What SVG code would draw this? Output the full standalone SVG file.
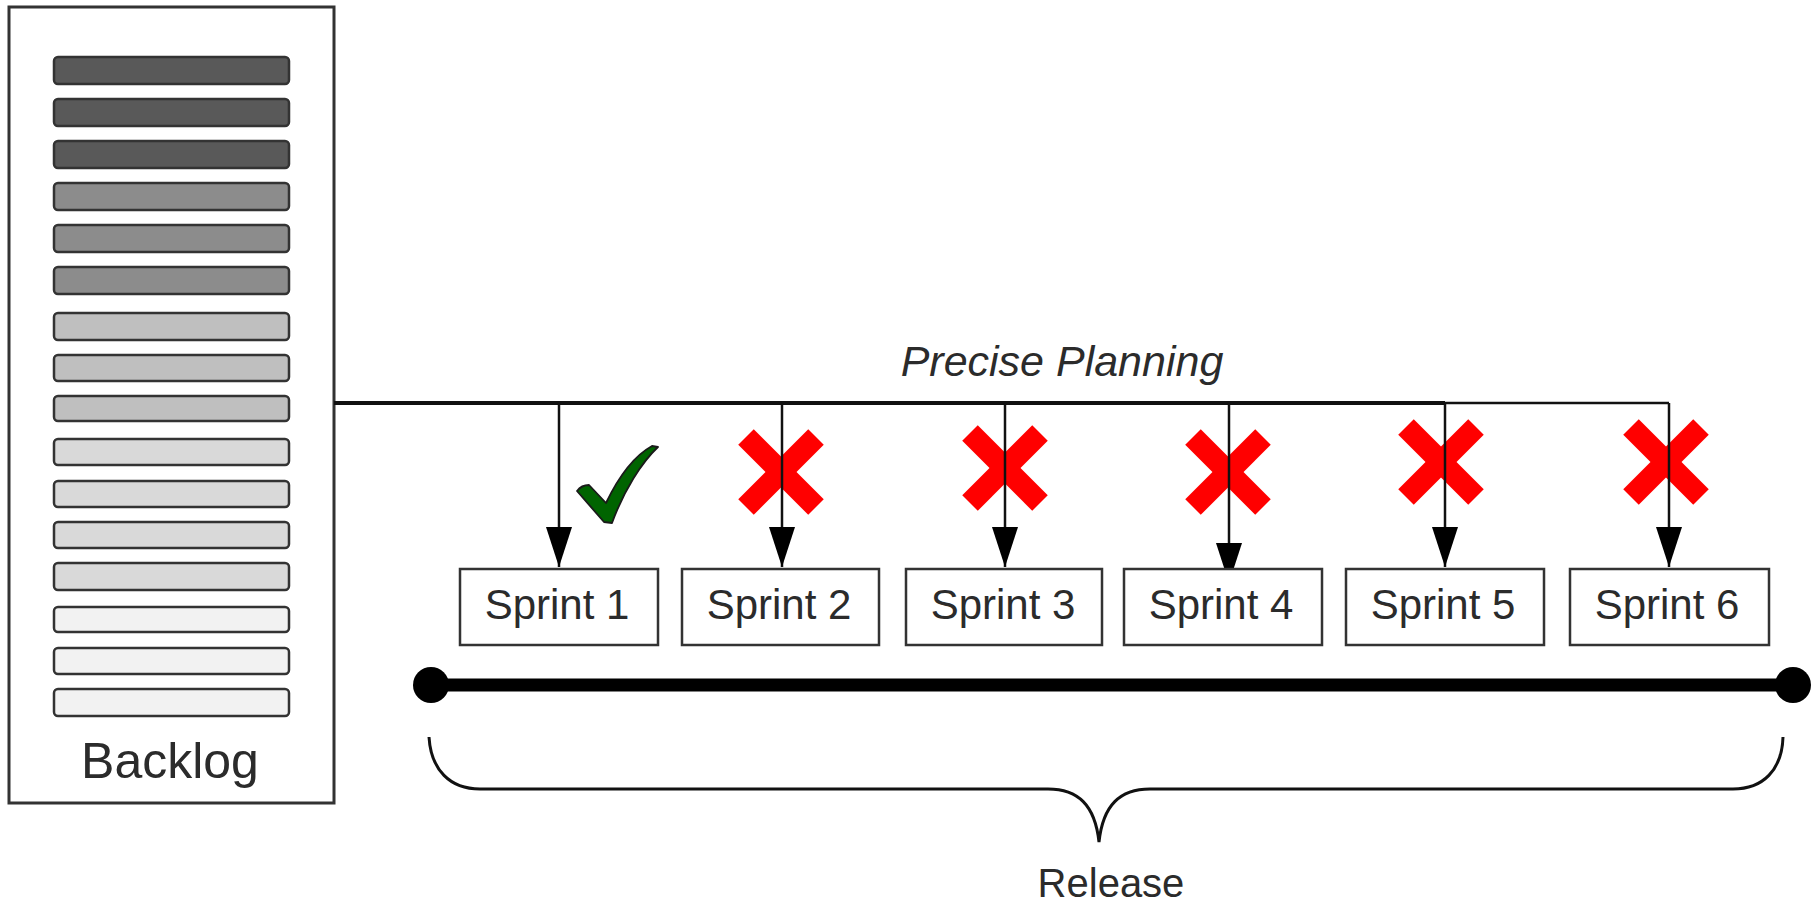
<svg xmlns="http://www.w3.org/2000/svg" width="1820" height="904" viewBox="0 0 1820 904">
<style>
  .txt { font-family: "Liberation Sans", Arial, sans-serif; fill: #2b2b2b; }
  .bar { stroke: #333; stroke-width: 2.5; }
  .sprint { fill: #fff; stroke: #333; stroke-width: 2.5; }
  .conn { fill: none; stroke: #111; stroke-width: 2.5; }
  .cross { stroke: #ff0000; stroke-width: 22; stroke-linecap: butt; }
</style>
<defs>
  <marker id="arr" viewBox="0 -14 40 28" refX="40" refY="0" markerWidth="40" markerHeight="28" markerUnits="userSpaceOnUse" orient="auto">
    <path d="M0,-13 L40,0 L0,13 Z" fill="#000"/>
  </marker>
  <g id="x">
    <line class="cross" x1="-35" y1="-35" x2="35" y2="35"/>
    <line class="cross" x1="-35" y1="35" x2="35" y2="-35"/>
  </g>
</defs>
<rect width="1820" height="904" fill="#fff"/>

<g id="backlog">
  <rect x="9" y="7" width="325" height="796" fill="#fff" stroke="#333" stroke-width="3"/>
  <g class="bar">
    <rect x="54" y="57" width="235" height="27" rx="4" fill="#595959"/>
    <rect x="54" y="99" width="235" height="27" rx="4" fill="#595959"/>
    <rect x="54" y="141" width="235" height="27" rx="4" fill="#595959"/>
    <rect x="54" y="183" width="235" height="27" rx="4" fill="#8c8c8c"/>
    <rect x="54" y="225" width="235" height="27" rx="4" fill="#8c8c8c"/>
    <rect x="54" y="267" width="235" height="27" rx="4" fill="#8c8c8c"/>
    <rect x="54" y="313" width="235" height="27" rx="4" fill="#bfbfbf"/>
    <rect x="54" y="355" width="235" height="26" rx="4" fill="#bfbfbf"/>
    <rect x="54" y="396" width="235" height="25" rx="4" fill="#bfbfbf"/>
    <rect x="54" y="439" width="235" height="26" rx="4" fill="#d9d9d9"/>
    <rect x="54" y="481" width="235" height="26" rx="4" fill="#d9d9d9"/>
    <rect x="54" y="522" width="235" height="26" rx="4" fill="#d9d9d9"/>
    <rect x="54" y="563" width="235" height="27" rx="4" fill="#d9d9d9"/>
    <rect x="54" y="607" width="235" height="25" rx="4" fill="#f2f2f2"/>
    <rect x="54" y="648" width="235" height="26" rx="4" fill="#f2f2f2"/>
    <rect x="54" y="689" width="235" height="27" rx="4" fill="#f2f2f2"/>
  </g>
  <text class="txt" x="170" y="778" font-size="50" text-anchor="middle">Backlog</text>
</g>

<g id="planning-label">
  <text class="txt" x="1062" y="376" font-size="43" font-style="italic" text-anchor="middle">Precise Planning</text>
</g>

<g id="marks">
  <use href="#x" x="781" y="472"/>
  <use href="#x" x="1005" y="468"/>
  <use href="#x" x="1228" y="472"/>
  <use href="#x" x="1441" y="462"/>
  <use href="#x" x="1666" y="462"/>
  <path id="check" d="M577,491 C580,487 584,485 589,485 L606,503 C618,478 634,456 652,446 L658,447 C642,462 624,490 612,523 L604,522 Z" fill="#006400" stroke="#1a1a1a" stroke-width="1.8" stroke-linejoin="round"/>
</g>

<g id="connectors">
  <line x1="334" y1="403" x2="1445" y2="403" stroke="#111" stroke-width="4"/>
  <line x1="1445" y1="403" x2="1669" y2="403" stroke="#111" stroke-width="2.5"/>
  <line class="conn" x1="559" y1="403" x2="559" y2="567" marker-end="url(#arr)"/>
  <line class="conn" x1="782" y1="403" x2="782" y2="567" marker-end="url(#arr)"/>
  <line class="conn" x1="1005" y1="403" x2="1005" y2="567" marker-end="url(#arr)"/>
  <line class="conn" x1="1229" y1="403" x2="1229" y2="583" marker-end="url(#arr)"/>
  <line class="conn" x1="1445" y1="403" x2="1445" y2="567" marker-end="url(#arr)"/>
  <line class="conn" x1="1669" y1="403" x2="1669" y2="567" marker-end="url(#arr)"/>
</g>

<g id="sprint1">
  <rect class="sprint" x="460" y="569" width="198" height="76"/>
  <text class="txt" x="557" y="619" font-size="42" text-anchor="middle">Sprint 1</text>
</g>
<g id="sprint2">
  <rect class="sprint" x="682" y="569" width="197" height="76"/>
  <text class="txt" x="779" y="619" font-size="42" text-anchor="middle">Sprint 2</text>
</g>
<g id="sprint3">
  <rect class="sprint" x="906" y="569" width="196" height="76"/>
  <text class="txt" x="1003" y="619" font-size="42" text-anchor="middle">Sprint 3</text>
</g>
<g id="sprint4">
  <rect class="sprint" x="1124" y="569" width="198" height="76"/>
  <text class="txt" x="1221" y="619" font-size="42" text-anchor="middle">Sprint 4</text>
</g>
<g id="sprint5">
  <rect class="sprint" x="1346" y="569" width="198" height="76"/>
  <text class="txt" x="1443" y="619" font-size="42" text-anchor="middle">Sprint 5</text>
</g>
<g id="sprint6">
  <rect class="sprint" x="1570" y="569" width="199" height="76"/>
  <text class="txt" x="1667" y="619" font-size="42" text-anchor="middle">Sprint 6</text>
</g>

<g id="release">
  <line x1="431" y1="685" x2="1793" y2="685" stroke="#000" stroke-width="13"/>
  <circle cx="431" cy="685" r="18" fill="#000"/>
  <circle cx="1793" cy="685" r="18" fill="#000"/>
  <path d="M429,737 C431,770 450,789 480,789 L1048,789 C1078,789 1095,805 1099,842 C1103,805 1120,789 1150,789 L1733,789 C1763,789 1782,770 1783,737" fill="none" stroke="#111" stroke-width="3"/>
  <text class="txt" x="1111" y="897" font-size="40" text-anchor="middle">Release</text>
</g>
</svg>
